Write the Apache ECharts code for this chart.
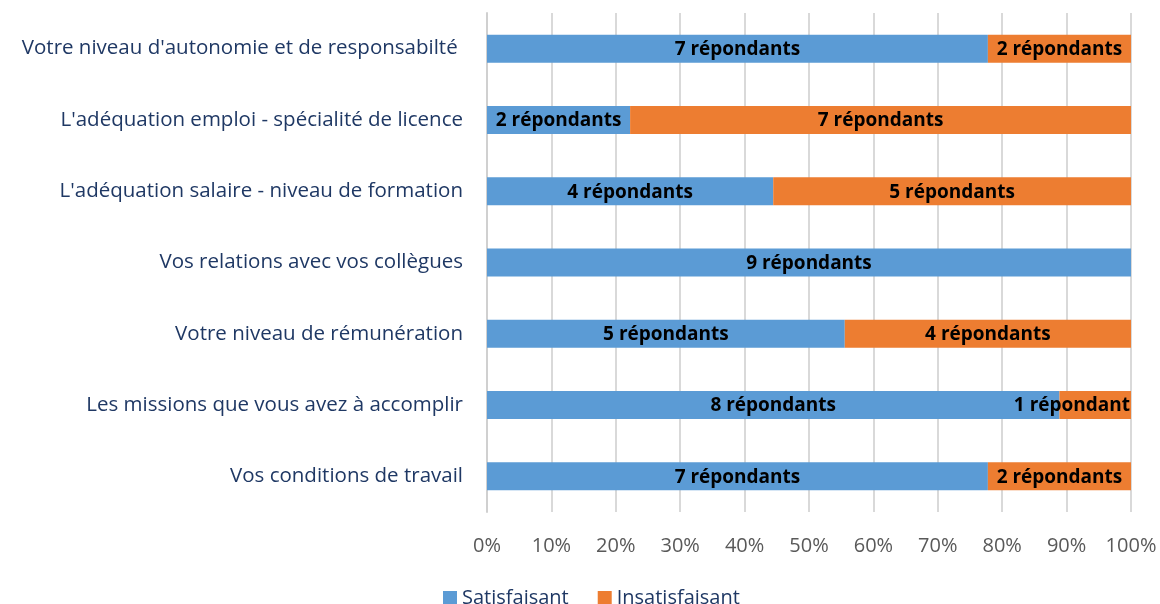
<!DOCTYPE html>
<html><head><meta charset="utf-8">
<script src="https://cdn.jsdelivr.net/npm/echarts@6/dist/echarts.min.js"></script>
<style>html,body{margin:0;padding:0;background:#fff}#c{width:1160px;height:604px}</style>
</head><body><div id="c"></div>
<script>
// Categories listed bottom to top (ECharts category y-axis starts at bottom)
const categories = [
  "Vos conditions de travail",
  "Les missions que vous avez à accomplir",
  "Votre niveau de rémunération",
  "Vos relations avec vos collègues",
  "L'adéquation salaire - niveau de formation",
  "L'adéquation emploi - spécialité de licence",
  "Votre niveau d'autonomie et de responsabilté "
];
const satisfaisant = [7, 8, 5, 9, 4, 2, 7];
const insatisfaisant = [2, 1, 4, 0, 5, 7, 2];
const seriesNames = ["Satisfaisant", "Insatisfaisant"];
const xTicks = [0, 10, 20, 30, 40, 50, 60, 70, 80, 90, 100];

const totals = satisfaisant.map((v, i) => v + insatisfaisant[i]);
function lbl(n) { return n + (n === 1 ? " répondant" : " répondants"); }
function build(arr) {
  return arr.map((v, i) => {
    const item = { value: v / totals[i] * 100, count: v };
    if (v === 0) item.label = { show: false };
    else if (v / totals[i] < 0.15) item.label = { position: 'insideRight', distance: 1 };
    return item;
  });
}
const labelStyle = {
  show: true, position: 'inside', color: '#000', fontWeight: 'bold',
  fontFamily: 'Open Sans', fontSize: 19, offset: [0, 1],
  formatter: p => lbl(p.data.count)
};
const chart = echarts.init(document.getElementById('c'), null, { renderer: 'canvas' });
chart.setOption({
  animation: false,
  textStyle: { fontFamily: 'Open Sans' },
  grid: { left: 487, right: 29, top: 13, bottom: 92 },
  legend: {
    top: 583, left: 438, itemWidth: 14, itemHeight: 14, itemGap: 29,
    icon: 'rect',
    textStyle: { color: '#1f3864', fontSize: 20, fontFamily: 'Open Sans' },
    data: seriesNames
  },
  xAxis: {
    type: 'value', min: 0, max: 100, interval: 10,
    axisLabel: { formatter: v => v + '%', color: '#595959', fontSize: 20, margin: 24 },
    axisLine: { show: false }, axisTick: { show: false },
    splitLine: { lineStyle: { color: '#d9d9d9', width: 2 } }
  },
  yAxis: {
    type: 'category', data: categories,
    axisLine: { show: true, lineStyle: { color: '#d0d0d0', width: 2 } },
    axisTick: { show: false },
    axisLabel: { color: '#1f3864', fontSize: 20.5, margin: 24 }
  },
  series: [
    { name: seriesNames[0], type: 'bar', stack: 't', barWidth: 28,
      itemStyle: { color: '#5b9bd5' }, label: labelStyle, data: build(satisfaisant) },
    { name: seriesNames[1], type: 'bar', stack: 't', barWidth: 28,
      itemStyle: { color: '#ed7d31' }, label: labelStyle, data: build(insatisfaisant) }
  ]
});
</script></body></html>
